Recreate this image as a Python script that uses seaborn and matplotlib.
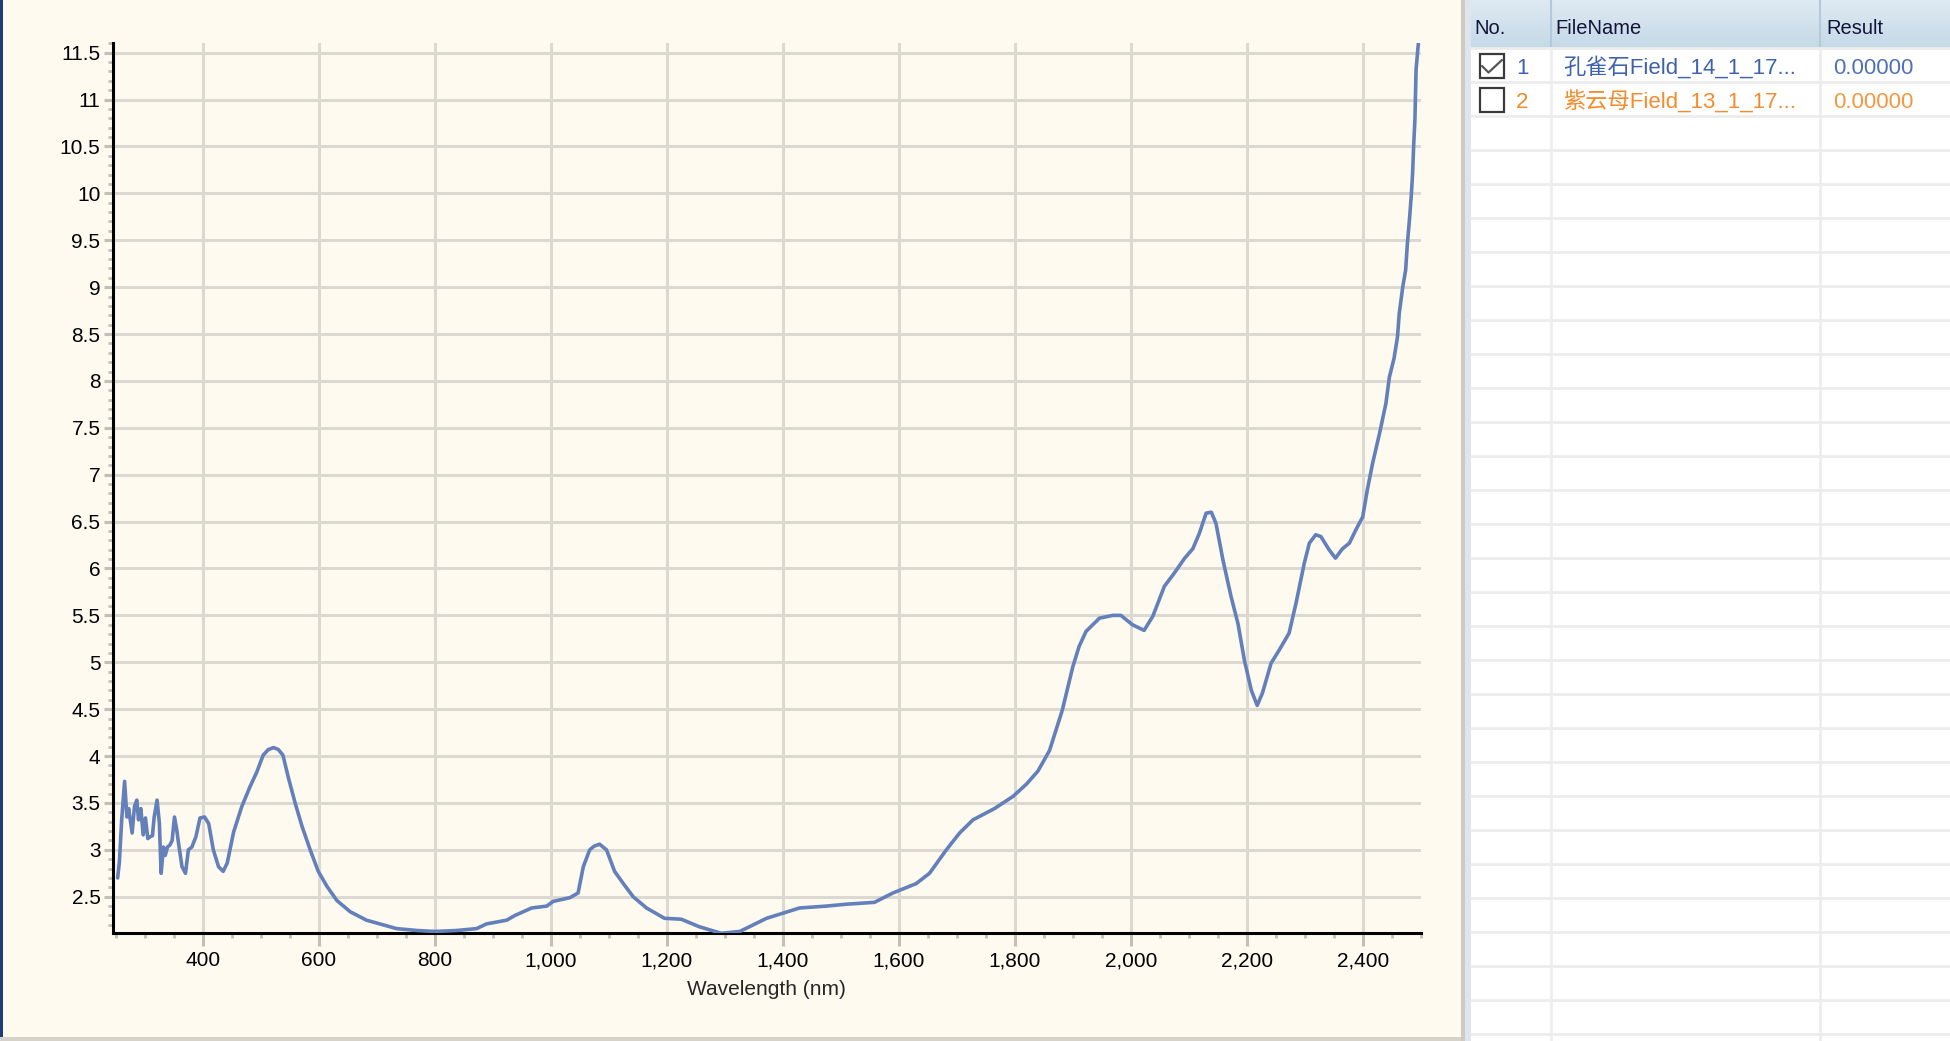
import matplotlib
matplotlib.use('Agg')
import numpy as np
import matplotlib.pyplot as plt
import seaborn as sns
from matplotlib.ticker import MultipleLocator, FuncFormatter
from matplotlib.patches import Rectangle

# spectrum
wavelength = [253, 256, 260, 265, 269, 272, 278, 282, 286, 289, 293, 297, 301, 305, 309,
              313, 316, 321, 325, 328, 332, 335, 339, 343, 347, 351, 355, 358, 364, 370,
              375, 381, 388, 395, 403, 410, 418, 427, 435, 442, 453, 467, 481, 493, 504,
              513, 522, 530, 538, 547, 559, 571, 585, 599, 614, 631, 654, 682, 711, 734,
              769, 800, 838, 872, 889, 924, 938, 967, 993, 1004, 1033, 1047, 1056, 1067,
              1075, 1084, 1096, 1110, 1125, 1142, 1165, 1196, 1225, 1256, 1294, 1326, 1372,
              1429, 1475, 1509, 1558, 1590, 1630, 1653, 1682, 1705, 1728, 1765, 1797, 1820,
              1840, 1860, 1882, 1900, 1911, 1923, 1946, 1969, 1983, 2003, 2023, 2038, 2058,
              2075, 2093, 2107, 2118, 2130, 2139, 2147, 2159, 2173, 2185, 2196, 2208, 2218,
              2227, 2242, 2256, 2273, 2285, 2299, 2308, 2319, 2328, 2342, 2353, 2365, 2377,
              2388, 2400, 2408, 2417, 2429, 2440, 2446, 2454, 2460, 2463, 2469, 2474, 2477,
              2481, 2484, 2486, 2488, 2490, 2491, 2492, 2494, 2496]
value = [2.70, 2.87, 3.32, 3.73, 3.35, 3.44, 3.18, 3.46, 3.53, 3.32, 3.44, 3.16, 3.34, 3.12, 3.14,
         3.15, 3.35, 3.53, 3.28, 2.75, 3.03, 2.94, 3.03, 3.05, 3.10, 3.35, 3.21, 3.07, 2.82, 2.75,
         3.00, 3.03, 3.14, 3.34, 3.35, 3.28, 3.00, 2.82, 2.77, 2.86, 3.19, 3.46, 3.67, 3.83, 4.01,
         4.07, 4.09, 4.07, 4.01, 3.78, 3.50, 3.25, 3.00, 2.77, 2.61, 2.46, 2.34, 2.25, 2.20, 2.16,
         2.14, 2.13, 2.14, 2.16, 2.21, 2.25, 2.30, 2.38, 2.40, 2.45, 2.49, 2.54, 2.82, 3.00,
         3.04, 3.06, 3.00, 2.77, 2.64, 2.50, 2.38, 2.27, 2.26, 2.18, 2.11, 2.13, 2.27,
         2.38, 2.40, 2.42, 2.44, 2.54, 2.64, 2.75, 3.00, 3.18, 3.32, 3.44, 3.57, 3.70,
         3.84, 4.06, 4.49, 4.95, 5.17, 5.33, 5.47, 5.50, 5.50, 5.40, 5.34, 5.49, 5.81,
         5.95, 6.11, 6.21, 6.37, 6.59, 6.60, 6.48, 6.09, 5.70, 5.41, 5.02, 4.70, 4.54,
         4.67, 4.99, 5.13, 5.31, 5.63, 6.05, 6.27, 6.36, 6.34, 6.20, 6.11, 6.21, 6.27,
         6.41, 6.55, 6.84, 7.12, 7.44, 7.76, 8.04, 8.24, 8.47, 8.72, 9.00, 9.18, 9.46,
         9.75, 10.00, 10.21, 10.53, 10.78, 11.03, 11.32, 11.46, 11.60]

# file list on the right
file_no = ['1', '2']
file_names = ['孔雀石Field_14_1_17...', '紫云母Field_13_1_17...']
results = ['0.00000', '0.00000']
checked = [True, False]
row_colors = ['#3d62b0', '#f28c2c']
header = ['No.', 'FileName', 'Result']

sns.set_style('ticks')
plt.rcParams['font.family'] = ['Liberation Sans', 'Noto Sans CJK SC', 'DejaVu Sans']

W, H = 1950, 1041
fig = plt.figure(figsize=(W / 100, H / 100), dpi=100, facecolor='white')

# background panels (pixel coords)
bg = fig.add_axes([0, 0, 1, 1], zorder=-10)
bg.add_patch(Rectangle((0, 0), 1461, H, color='#fefaf0', lw=0))
bg.add_patch(Rectangle((0, 0), 3, H, color='#1f3d78', lw=0))
bg.add_patch(Rectangle((0, 1037), 1461, 4, color='#d6d2ca', lw=0))
bg.add_patch(Rectangle((1461, 0), 4, H, color='#cfcbc3', lw=0))
bg.add_patch(Rectangle((1465, 0), 6, H, color='#dde6ee', lw=0))
bg.add_patch(Rectangle((1471, 48), W - 1471, H - 48, color='white', lw=0))
grad = np.linspace(0, 1, 64).reshape(-1, 1)
bg.imshow(grad, extent=(1471, W, 48, 0), aspect='auto',
          cmap=matplotlib.colors.LinearSegmentedColormap.from_list('hd', ['#dfeaf2', '#c4d9e7']))
bg.set_xlim(0, W)
bg.set_ylim(H, 0)
bg.axis('off')
for cx in [1551, 1820]:
    bg.plot([cx, cx], [0, 48], color='#b3cadc', lw=1.5)
    bg.plot([cx, cx], [48, H], color='#ececec', lw=1.8)
for ry in np.arange(48, H, 34):
    bg.plot([1471, W], [ry, ry], color='#ececec', lw=2)
for txt, hx in zip(header, [1474, 1555, 1826]):
    bg.text(hx, 28, txt, fontsize=14.5, color='#14143a', va='center', ha='left')
for i, (no, name, res, chk, col) in enumerate(zip(file_no, file_names, results, checked, row_colors)):
    cy = 67 + 34 * i
    bg.add_patch(Rectangle((1480, cy - 13), 24, 24, fill=False, ec='#3a3a3a', lw=1.6))
    if chk:
        bg.plot([1482, 1488.5, 1502], [cy - 1, cy + 5.5, cy - 7], color='#555555', lw=1.6)
    bg.text(1516, cy + 2, no, fontsize=16, color=col, va='center', ha='left')
    bg.text(1563, cy, name, fontsize=16, color=col, va='center', ha='left')
    bg.text(1833, cy + 2, res, fontsize=16, color=col, va='center', ha='left', alpha=0.9)

# main chart
ax = fig.add_axes([113 / W, 1 - 933.3 / H, (1420.7 - 113) / W, (933.3 - 43.3) / H])
ax.set_facecolor('#fefaf0')
sns.lineplot(x=wavelength, y=value, ax=ax, color='#6380bb', lw=2.6,
             estimator=None, sort=False, zorder=3)
ax.set_xlim(245, 2500)
ax.set_ylim(2.11, 11.6)
ax.xaxis.set_major_locator(MultipleLocator(200))
ax.xaxis.set_minor_locator(MultipleLocator(50))
ax.yaxis.set_major_locator(MultipleLocator(0.5))
ax.yaxis.set_minor_locator(MultipleLocator(0.1))
ax.xaxis.set_major_formatter(FuncFormatter(lambda v, p: f'{int(round(v)):,}'))
ax.yaxis.set_major_formatter(FuncFormatter(lambda v, p: f'{v:g}'))
ax.grid(True, which='major', color='#dcd9d2', lw=2.2)
ax.set_axisbelow(True)
for s in ['top', 'right']:
    ax.spines[s].set_visible(False)
for s in ['left', 'bottom']:
    ax.spines[s].set_color('black')
    ax.spines[s].set_linewidth(2.2)
ax.tick_params(axis='both', which='major', color='#c2bfb8', width=2.2,
               labelsize=15, labelcolor='black')
ax.tick_params(axis='x', which='major', length=9.5, pad=3.5)
ax.tick_params(axis='y', which='major', length=6.5, pad=2.5)
ax.tick_params(axis='both', which='minor', color='#c2bfb8', width=2, length=3.5)
ax.set_xlabel('Wavelength (nm)', fontsize=15, labelpad=7)
ax.set_ylabel('')

fig.savefig('out.png', dpi=100, facecolor='white')
